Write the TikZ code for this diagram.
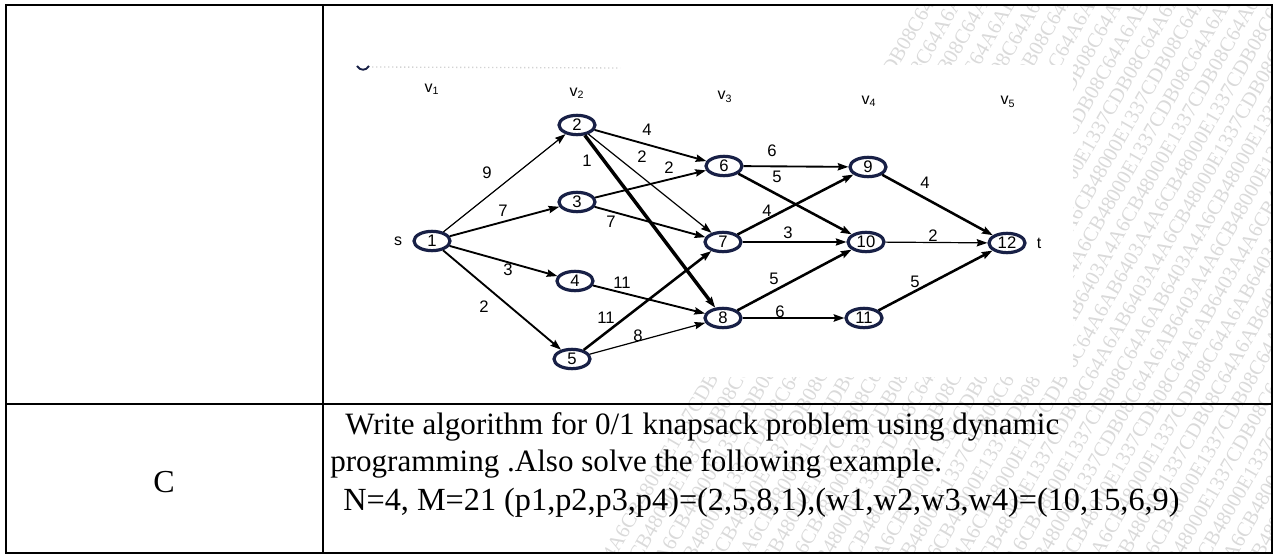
\documentclass[tikz,border=0pt]{standalone}
\usepackage{fontspec}
\setmainfont{Liberation Serif}
\newfontfamily\graphfont{Liberation Sans}
\usetikzlibrary{shapes.geometric,arrows.meta}
\definecolor{ringblue}{RGB}{24,32,70}
\definecolor{wmgray}{RGB}{218,218,218}
\newcommand{\wmstring}{6403A4A6CB48000E1337CDB08C64A6AB6403A4A6CB48000E1337CDB08C64A6AB}

\begin{document}
\begin{tikzpicture}[x=0.75pt,y=-0.75pt,
    vertex/.style={draw=ringblue, ellipse, line width=2.4pt, minimum width=27pt,
      minimum height=14.5pt, inner sep=0pt, font=\graphfont\fontsize{12.5}{12.5}\selectfont},
    wt/.style={font=\graphfont\fontsize{12.5}{12.5}\selectfont, inner sep=0pt},
    stage/.style={font=\graphfont\fontsize{12}{12}\selectfont, inner sep=0pt},
    thin edge/.style={-{Stealth[length=8pt,width=5.5pt,inset=1pt]}, line width=0.9pt},
    edge/.style={thin edge, line width=1.4pt},
    bold edge/.style={thin edge, line width=1.9pt},
    heavy edge/.style={thin edge, line width=2.6pt},
    wmark/.style={text=wmgray, font=\fontsize{15.5}{15.5}\selectfont, rotate=60,
      anchor=base west, inner sep=0pt},
    cell/.style={font=\fontsize{23.3}{28}\selectfont, inner sep=0pt}]

  % page
  \useasboundingbox (0,0) rectangle (1274,555);

  % watermark
  \begin{scope}
    \clip (6,5) rectangle (1272,553);
    \foreach \k [evaluate=\k as \s using {mod(\k*37,60)}] in {0,...,38}
      \node[wmark] (wm\k) at ({585+\k*27-0.5*\s}, {610+0.866*\s}) {\wmstring};
  \end{scope}
  % scanned figure
  \fill[white] (335,65) rectangle (1073,377);
  \draw[ringblue, line width=1.4pt] (357,66) .. controls (360,71) and (366,71) .. (369,66);
  \draw[gray!35, dotted, line width=1pt] (372,67) -- (620,68);

  % table
  \draw[line width=1.5pt] (6,5) rectangle (1272,553);
  \draw[line width=1.5pt] (323,5) -- (323,553);
  \draw[line width=1.5pt] (6,404) -- (1272,404);

  % stages
  \node[stage] (v1) at (432,89) {v\textsubscript{1}};
  \node[stage] (v2) at (577,93) {v\textsubscript{2}};
  \node[stage] (v3) at (725,97) {v\textsubscript{3}};
  \node[stage] (v4) at (869,101) {v\textsubscript{4}};
  \node[stage] (v5) at (1008,102) {v\textsubscript{5}};

  % vertices
  \node[vertex] (n1) at (432,241) {1};
  \node[vertex] (n2) at (577,125) {2};
  \node[vertex] (n3) at (577,202) {3};
  \node[vertex] (n4) at (575,281) {4};
  \node[vertex] (n5) at (572,359) {5};
  \node[vertex] (n6) at (724,166) {6};
  \node[vertex] (n7) at (723,242) {7};
  \node[vertex] (n8) at (723,318) {8};
  \node[vertex] (n9) at (868,167) {9};
  \node[vertex] (n10) at (866,242) {10};
  \node[vertex] (n11) at (864,318) {11};
  \node[vertex] (n12) at (1007,243) {12};
  \node[stage] (src) at (398,241) {s};
  \node[stage] (snk) at (1039,243) {t};

  % edges
  \foreach \a/\b in {1/2, 2/7, 5/8, 7/10, 10/12}
    \draw[thin edge] (n\a) -- (n\b);
  \foreach \a/\b in {1/3, 1/4, 1/5, 2/6, 3/6, 3/7, 4/8, 6/9, 8/11}
    \draw[edge] (n\a) -- (n\b);
  \foreach \a/\b in {5/7, 6/10, 7/9, 8/10, 9/12, 11/12}
    \draw[bold edge] (n\a) -- (n\b);
  \draw[heavy edge] (n2) -- (n8);

  % weights
  \foreach \w/\x/\y [count=\i] in {9/487/173, 7/503/211, 3/508/270, 2/484/307,
      4/647/130, 2/642/157, 1/587/161, 2/669/168, 7/611/222, 11/622/283,
      11/606/318, 8/638/336, 6/772/151, 5/777/177, 4/767/211, 3/788/233,
      5/774/279, 6/780/312, 4/925/183, 2/933/236, 5/915/282}
    \node[wt] (w\i) at (\x,\y) {\w};

  % question
  \node[cell, font=\fontsize{24}{28}\selectfont] (qno) at (164,482) {C};
  \node[cell, anchor=base west] (q1) at (345,435) {Write algorithm for 0/1 knapsack problem using dynamic};
  \node[cell, anchor=base west] (q2) at (330,472) {programming .Also solve the following example.};
  \node[cell, anchor=base west, font=\fontsize{24.2}{28}\selectfont] (q3) at (343,511)
    {N=4, M=21 (p1,p2,p3,p4)=(2,5,8,1),(w1,w2,w3,w4)=(10,15,6,9)};
\end{tikzpicture}
\end{document}
